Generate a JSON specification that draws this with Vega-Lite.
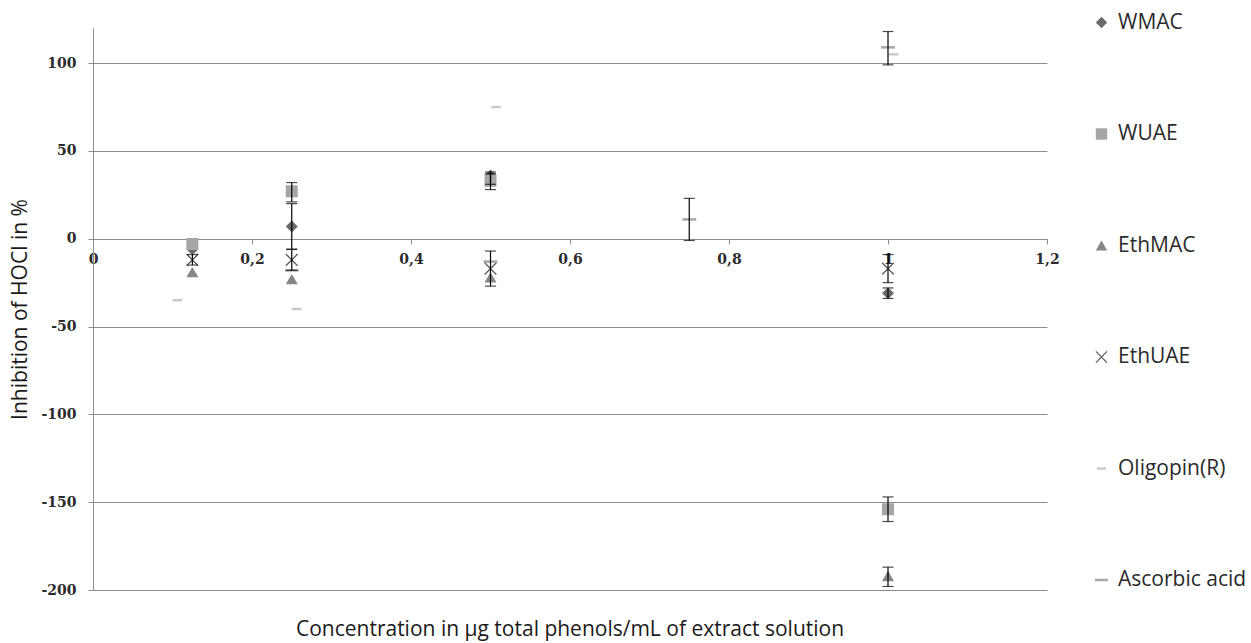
{
  "$schema": "https://vega.github.io/schema/vega-lite/v6.json",
  "width": 954,
  "height": 562,
  "autosize": {"type": "none"},
  "padding": {"left": 93, "top": 28, "right": 204, "bottom": 53},
  "background": "white",
  "config": {
    "view": {"stroke": null},
    "axis": {"gridColor": "#8c8c8c", "domainColor": "#8c8c8c", "tickColor": "#8c8c8c", "gridWidth": 1, "domainWidth": 1}
  },
  "title": {
    "text": "Concentration in µg total phenols/mL of extract solution",
    "orient": "bottom", "anchor": "middle", "frame": "group", "offset": 22,
    "font": "Open Sans", "fontSize": 21, "fontWeight": "normal", "color": "#1a1a1a"
  },
  "datasets": {
    "pts": [
      {"series": "WMAC", "conc": 0.125, "inhib": -6},
      {"series": "WMAC", "conc": 0.25, "inhib": 7},
      {"series": "WMAC", "conc": 0.5, "inhib": 36},
      {"series": "WMAC", "conc": 1.0, "inhib": -31},
      {"series": "WUAE", "conc": 0.125, "inhib": -3},
      {"series": "WUAE", "conc": 0.25, "inhib": 27},
      {"series": "WUAE", "conc": 0.5, "inhib": 33},
      {"series": "WUAE", "conc": 1.0, "inhib": -154},
      {"series": "EthMAC", "conc": 0.125, "inhib": -19},
      {"series": "EthMAC", "conc": 0.25, "inhib": -23},
      {"series": "EthMAC", "conc": 0.5, "inhib": -22},
      {"series": "EthMAC", "conc": 1.0, "inhib": -192},
      {"series": "EthUAE", "conc": 0.125, "inhib": -12},
      {"series": "EthUAE", "conc": 0.25, "inhib": -12},
      {"series": "EthUAE", "conc": 0.5, "inhib": -17},
      {"series": "EthUAE", "conc": 1.0, "inhib": -17},
      {"series": "Oligopin(R)", "conc": 0.106, "inhib": -35},
      {"series": "Oligopin(R)", "conc": 0.256, "inhib": -40},
      {"series": "Oligopin(R)", "conc": 0.507, "inhib": 75},
      {"series": "Oligopin(R)", "conc": 1.007, "inhib": 105},
      {"series": "Ascorbic acid", "conc": 0.25, "inhib": -18},
      {"series": "Ascorbic acid", "conc": 0.5, "inhib": -13},
      {"series": "Ascorbic acid", "conc": 0.75, "inhib": 11},
      {"series": "Ascorbic acid", "conc": 1.0, "inhib": 109}
    ],
    "err": [
      {"series": "WMAC", "conc": 0.25, "lo": -6, "hi": 20},
      {"series": "WMAC", "conc": 0.5, "lo": 31, "hi": 38},
      {"series": "WMAC", "conc": 1.0, "lo": -34, "hi": -28},
      {"series": "WUAE", "conc": 0.25, "lo": 21, "hi": 32},
      {"series": "WUAE", "conc": 0.5, "lo": 28, "hi": 37},
      {"series": "WUAE", "conc": 1.0, "lo": -161, "hi": -147},
      {"series": "EthMAC", "conc": 1.0, "lo": -198, "hi": -187},
      {"series": "EthUAE", "conc": 0.125, "lo": -15, "hi": -9},
      {"series": "EthUAE", "conc": 0.25, "lo": -18, "hi": -6},
      {"series": "EthUAE", "conc": 0.5, "lo": -27, "hi": -7},
      {"series": "EthUAE", "conc": 1.0, "lo": -25, "hi": -9},
      {"series": "Ascorbic acid", "conc": 0.75, "lo": -1, "hi": 23},
      {"series": "Ascorbic acid", "conc": 1.0, "lo": 99, "hi": 118}
    ]
  },
  "layer": [
    {
      "data": {"name": "pts"},
      "mark": {"type": "point", "filled": true, "opacity": 1, "size": 144},
      "encoding": {
        "x": {
          "field": "conc", "type": "quantitative",
          "scale": {"domain": [0, 1.2], "nice": false, "zero": false},
          "axis": {
            "values": [0, 0.2, 0.4, 0.6, 0.8, 1, 1.2],
            "offset": -351, "grid": false, "title": null,
            "tickSize": 5, "labelPadding": 8,
            "labelExpr": "replace(format(datum.value, '.1~f'), '.', ',')",
            "labelFont": "DejaVu Serif", "labelFontWeight": "bold", "labelFontSize": 14, "labelColor": "#2b2b2b",
            "labelFlush": false
          }
        },
        "y": {
          "field": "inhib", "type": "quantitative",
          "title": "Inhibition of HOCl in %",
          "scale": {"domain": [-200, 120], "nice": false, "zero": false},
          "axis": {
            "values": [-200, -150, -100, -50, 0, 50, 100],
            "labelExpr": "datum.value + ''",
            "titleFont": "Open Sans", "titleFontSize": 21, "titleFontWeight": "normal", "titleColor": "#1a1a1a", "titlePadding": 10,
            "tickSize": 5, "labelPadding": 12,
            "labelFont": "DejaVu Serif", "labelFontWeight": "bold", "labelFontSize": 14, "labelColor": "#2b2b2b"
          }
        },
        "color": {
          "field": "series", "type": "nominal",
          "scale": {
            "domain": ["WMAC", "WUAE", "EthMAC", "EthUAE", "Oligopin(R)", "Ascorbic acid"],
            "range": ["#6b6b6b", "#a6a6a6", "#868686", "#5a5a5a", "#c8c8c8", "#a9a9a9"]
          },
          "legend": {
            "title": null, "orient": "none", "legendX": 998, "legendY": -16,
            "padding": 0, "rowPadding": 89.5, "symbolSize": 130, "symbolStrokeWidth": 0,
            "labelFont": "Open Sans", "labelFontSize": 21, "labelColor": "#2b2b2b", "labelOffset": 6
          }
        },
        "shape": {
          "field": "series", "type": "nominal",
          "scale": {
            "domain": ["WMAC", "WUAE", "EthMAC", "EthUAE", "Oligopin(R)", "Ascorbic acid"],
            "range": [
              "diamond",
              "square",
              "triangle-up",
              "M-1.05,-0.9L-0.9,-1.05L1.05,0.9L0.9,1.05Z M0.9,-1.05L1.05,-0.9L-0.9,1.05L-1.05,0.9Z",
              "M-0.8,-0.2L0.8,-0.2L0.8,0.2L-0.8,0.2Z",
              "M-1.15,-0.22L1.15,-0.22L1.15,0.22L-1.15,0.22Z"
            ]
          }
        }
      }
    },
    {
      "data": {"name": "err"},
      "mark": {"type": "errorbar", "color": "black", "thickness": 1.2, "ticks": {"size": 11, "thickness": 1.2, "color": "black"}},
      "encoding": {
        "x": {"field": "conc", "type": "quantitative"},
        "y": {"field": "lo", "type": "quantitative", "title": "Inhibition of HOCl in %"},
        "y2": {"field": "hi"}
      }
    }
  ]
}
